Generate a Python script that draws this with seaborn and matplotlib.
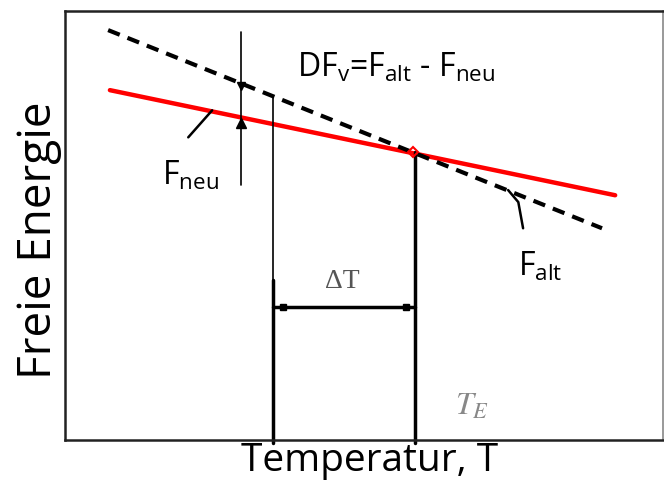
import numpy as np
import pandas as pd
import matplotlib
matplotlib.use("Agg")
import matplotlib.pyplot as plt
import seaborn as sns

# schematic free energy lines (T, F in arbitrary units 0..10)
t_neu = [0.75, 9.20]
f_neu = [8.16, 5.71]
t_alt = [0.72, 8.98]
f_alt = [9.56, 4.94]

t_e = 5.85        # equilibrium temperature
t_1 = 3.48        # undercooled temperature
t_df = 2.94       # where the free energy difference is marked
f_e = 6.71        # free energy at T_E
dt_level = 3.10   # height of the Delta T arrow

sns.set_style("white")
plt.rcParams["font.family"] = ["Open Sans", "DejaVu Sans"]
plt.rcParams["mathtext.default"] = "regular"
plt.rcParams["text.color"] = "black"
plt.rcParams["axes.labelcolor"] = "black"

fig = plt.figure(figsize=(6.64, 4.88), dpi=100)
ax = fig.add_axes([0.098, 0.098, 0.9005, 0.879])

df_neu = pd.DataFrame({"T": t_neu, "F": f_neu})
df_alt = pd.DataFrame({"T": t_alt, "F": f_alt})
sns.lineplot(data=df_neu, x="T", y="F", color="#ff0000", lw=3.2, ax=ax)
sns.lineplot(data=df_alt, x="T", y="F", color="black", lw=3, ax=ax)
ax.lines[-1].set_dashes((3, 2))

# values on the lines at the marked temperatures
f_alt_df = np.interp(t_df, t_alt, f_alt)
f_neu_df = np.interp(t_df, t_neu, f_neu)
f_alt_1 = np.interp(t_1, t_alt, f_alt)

# free energy difference marker
ax.plot([t_df, t_df], [5.94, 9.51], color="black", lw=1.2)
ax.plot([t_df], [f_neu_df - 0.12], marker="^", color="black", ms=7)
ax.plot([t_df], [f_alt_df - 0.05], marker="v", color="black", ms=6)

# vertical lines at T1 and T_E
ax.plot([t_1, t_1], [3.73, f_alt_1], color="black", lw=1.2)
ax.plot([t_1, t_1], [-0.07, 3.73], color="black", lw=2.5, clip_on=False)
ax.plot([t_e, t_e], [-0.07, f_e], color="black", lw=2.5, clip_on=False)
ax.plot([t_e - 0.03], [f_e], marker="D", mfc="none", mec="#ff0000", ms=5, mew=1.5)

# Delta T arrow
ax.plot([t_1, t_e], [dt_level, dt_level], color="black", lw=2.5)
ax.plot([t_1 + 0.17, t_e - 0.14], [dt_level, dt_level], ls="none", marker="s", color="black", ms=4)
ax.text(4.63, 3.71, "\u0394T", family="Liberation Serif",
        fontsize=20, color="#555555", ha="center", va="center")
ax.text(6.8, 0.8, r"$\mathit{T_E}$", math_fontfamily="stix", fontsize=23, color="#888888",
        ha="center", va="center")

# labels with leaders
ax.plot([2.06, 2.46], [7.06, 7.69], color="black", lw=1.8)
ax.text(2.09, 6.15, r"F$_{neu}$", fontsize=23, ha="center", va="center")
ax.plot([7.41, 7.58, 7.66], [5.83, 5.55, 4.94], color="black", lw=1.8)
ax.text(7.94, 4.05, r"F$_{alt}$", fontsize=23, ha="center", va="center")
ax.text(3.88, 8.67, r"DF$_{v}$=F$_{alt}$ - F$_{neu}$", fontsize=23, ha="left", va="center")

ax.set_xlim(0, 10)
ax.set_ylim(0, 10)
ax.set_xticks([])
ax.set_yticks([])
ax.set_xlabel("Temperatur, T", fontsize=28, labelpad=1)
ax.set_ylabel("Freie Energie", fontsize=33, labelpad=2)
ax.yaxis.label.set_y(0.465)
ax.xaxis.label.set_x(0.51)
for side in ["left", "bottom", "top"]:
    ax.spines[side].set_color("#222222")
    ax.spines[side].set_linewidth(1.8)
ax.spines["right"].set_color("#888888")
ax.spines["right"].set_linewidth(1.2)

fig.savefig("out.png", dpi=100)
